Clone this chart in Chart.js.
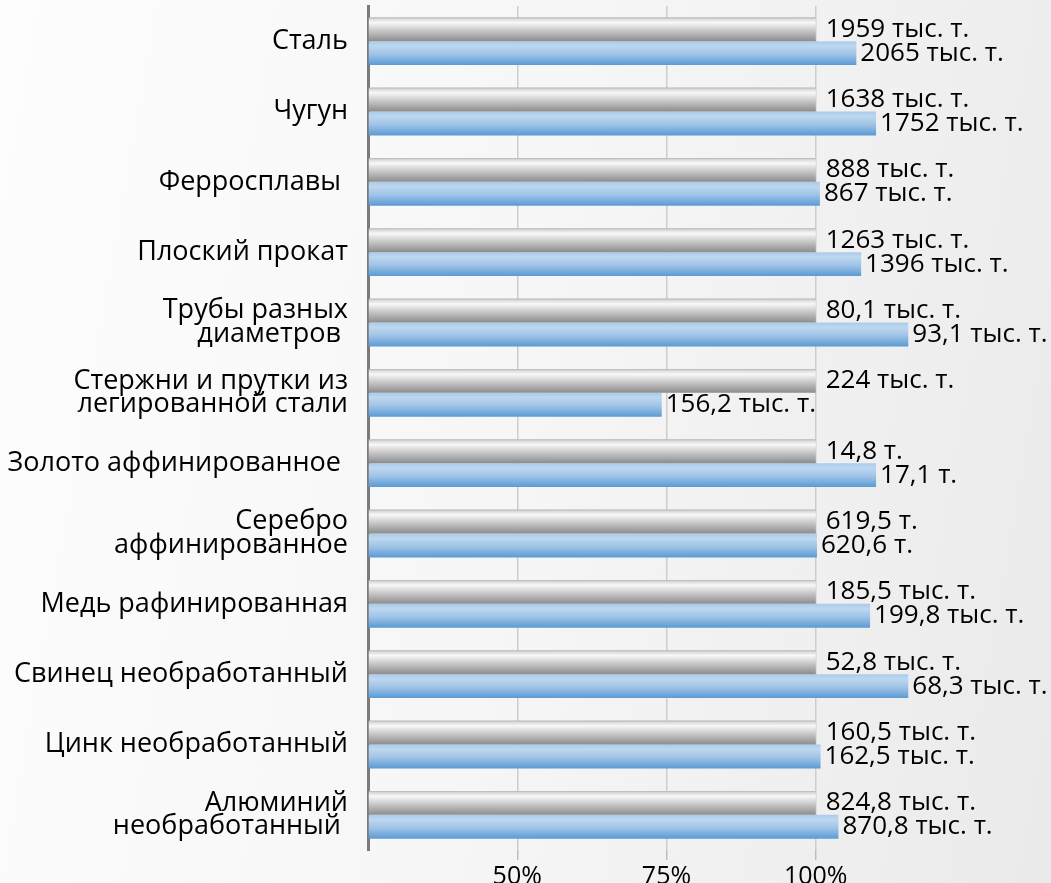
<!DOCTYPE html>
<html>
<head>
<meta charset="utf-8">
<script src="https://cdn.jsdelivr.net/npm/chart.js@4/dist/chart.umd.min.js"></script>
<style>
  html, body { margin: 0; padding: 0; }
  body {
    width: 1051px; height: 883px; overflow: hidden;
    background: linear-gradient(100deg, #fdfdfd 0%, #f6f6f6 50%, #eaeaea 100%);
  }
  #wrap { position: relative; width: 1051px; height: 883px; }
</style>
</head>
<body>
<div id="wrap"><canvas id="myChart"></canvas></div>
<script>
const categories = [
  "Сталь",
  "Чугун",
  "Ферросплавы ",
  "Плоский прокат",
  ["Трубы разных", "диаметров "],
  ["Стержни и прутки из", "легированной стали"],
  "Золото аффинированное ",
  ["Серебро", "аффинированное"],
  "Медь рафинированная",
  "Свинец необработанный",
  "Цинк необработанный",
  ["Алюминий", "необработанный "]
];
const prevPercent = [100, 100, 100, 100, 100, 100, 100, 100, 100, 100, 100, 100];
const currPercent = [106.8, 110.1, 100.7, 107.6, 115.5, 74.2, 110.1, 100.2, 109.1, 115.5, 100.8, 103.8];
const prevLabels = ["1959 тыс. т.", "1638 тыс. т.", "888 тыс. т.", "1263 тыс. т.", "80,1 тыс. т.", "224 тыс. т.",
  "14,8 т.", "619,5 т.", "185,5 тыс. т.", "52,8 тыс. т.", "160,5 тыс. т.", "824,8 тыс. т."];
const currLabels = ["2065 тыс. т.", "1752 тыс. т.", "867 тыс. т.", "1396 тыс. т.", "93,1 тыс. т.", "156,2 тыс. т.",
  "17,1 т.", "620,6 т.", "199,8 тыс. т.", "68,3 тыс. т.", "162,5 тыс. т.", "870,8 тыс. т."];
const xTicks = [50, 75, 100];

const FONT = '"Open Sans", sans-serif';
const CAT_PCT = 0.68;

// vertical gradient for each bar, worked out from the category scale
function barFill(c, stops) {
  const chart = c.chart;
  const y = chart.scales.y;
  if (!y || c.dataIndex === undefined || !chart.chartArea) return stops[stops.length - 1][1];
  const center = y.getPixelForValue(c.dataIndex);
  const band = y.height / categories.length;
  const h = band * CAT_PCT / 2;
  const top = c.datasetIndex === 0 ? center - h : center;
  const g = chart.ctx.createLinearGradient(0, top, 0, top + h);
  stops.forEach(s => g.addColorStop(s[0], s[1]));
  return g;
}

const grayStops = [[0, "#b3b3b3"], [0.08, "#dcdcdc"], [0.22, "#f8f8f8"], [0.5, "#cfcfcf"], [1, "#8c8c8c"]];
const blueStops = [[0, "#a9cbea"], [0.2, "#bdd7f0"], [0.55, "#9fc3e6"], [1, "#5a9ad5"]];

const valueLabels = {
  id: "valueLabels",
  afterDatasetsDraw(chart) {
    const ctx = chart.ctx;
    ctx.save();
    ctx.font = "26px " + FONT;
    ctx.fillStyle = "#000";
    ctx.textBaseline = "middle";
    ctx.textAlign = "left";
    [prevLabels, currLabels].forEach((labels, di) => {
      chart.getDatasetMeta(di).data.forEach((bar, i) => {
        ctx.fillText(labels[i], bar.x + (di === 0 ? 10 : 4), bar.y);
      });
    });
    ctx.restore();
  }
};

document.addEventListener("DOMContentLoaded", () => {
  const ctx = document.getElementById("myChart").getContext("2d");
  new Chart(ctx, {
    type: "bar",
    data: {
      labels: categories,
      datasets: [
        {
          label: "Предыдущий год",
          data: prevPercent,
          base: 25,
          backgroundColor: (c) => barFill(c, grayStops),
          categoryPercentage: CAT_PCT,
          barPercentage: 1
        },
        {
          label: "Текущий год",
          data: currPercent,
          base: 25,
          backgroundColor: (c) => barFill(c, blueStops),
          categoryPercentage: CAT_PCT,
          barPercentage: 1
        }
      ]
    },
    options: {
      indexAxis: "y",
      responsive: true,
      maintainAspectRatio: false,
      animation: false,
      layout: { padding: { top: 6, right: 86, bottom: 0, left: 0 } },
      plugins: {
        legend: { display: false },
        tooltip: { enabled: false }
      },
      scales: {
        x: {
          type: "linear",
          min: 25,
          max: 125,
          ticks: {
            stepSize: 25,
            color: "#000",
            font: { family: FONT, size: 25 },
            padding: 2,
            maxRotation: 0,
            callback: (v) => (xTicks.includes(v) ? v + "%" : "")
          },
          grid: {
            color: (c) => (c.tick && xTicks.includes(c.tick.value) ? "#cdcdcd" : "rgba(0,0,0,0)"),
            tickColor: (c) => (c.tick && xTicks.includes(c.tick.value) ? "#bdbdbd" : "rgba(0,0,0,0)"),
            lineWidth: 1.5,
            tickLength: 10
          },
          border: { display: false },
          afterFit: (s) => { s.height = 33; s.paddingLeft = 0; s.paddingRight = 0; }
        },
        y: {
          type: "category",
          grid: { display: false },
          border: { display: true, color: "#7a7a7a", width: 3 },
          ticks: {
            color: "#000",
            font: { family: FONT, size: 27, lineHeight: 0.88 },
            padding: 12,
            autoSkip: false
          },
          afterFit: (s) => { s.width = 368; s.paddingTop = 0; s.paddingBottom = 0; }
        }
      }
    },
    plugins: [valueLabels]
  });
});
</script>
</body>
</html>
